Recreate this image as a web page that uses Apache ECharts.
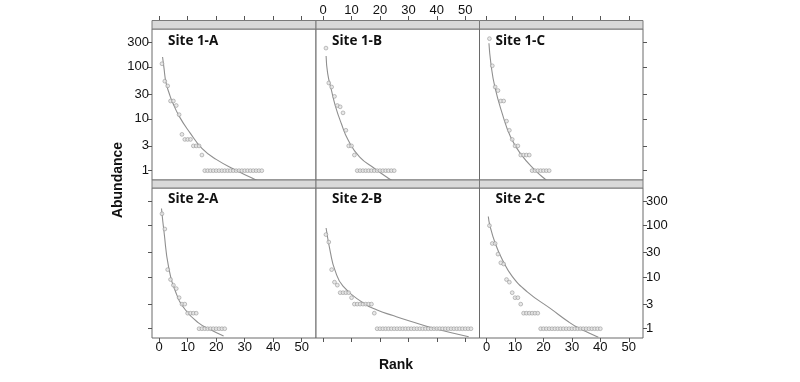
<!DOCTYPE html>
<html><head><meta charset="utf-8">
<script src="https://cdn.jsdelivr.net/npm/echarts@6/dist/echarts.min.js"></script>
<style>html,body{margin:0;padding:0;background:#fff}#c{width:800px;height:382px}</style>
</head><body><div id="c"></div>
<script>
// Abundance by rank (rank = position in list, 1-based)
var site1A = [115,53,43,22,22,18,12,5,4,4,4,3,3,3,2,1,1,1,1,1,1,1,1,1,1,1,1,1,1,1,1,1,1,1,1,1];
var site1B = [230,49,41,27,18,17,13,6,3,3,2,1,1,1,1,1,1,1,1,1,1,1,1,1,1];
var site1C = [350,105,41,35,22,22,9,6,4,3,3,2,2,2,2,1,1,1,1,1,1,1];
var site2A = [170,86,14,9,7,6,4,3,3,2,2,2,2,1,1,1,1,1,1,1,1,1,1];
var site2B = [67,48,14,8,7,5,5,5,5,4,3,3,3,3,3,3,3,2,1,1,1,1,1,1,1,1,1,1,1,1,1,1,1,1,1,1,1,1,1,1,1,1,1,1,1,1,1,1,1,1,1,1];
var site2C = [100,45,45,28,19,18,9,8,5,4,4,3,2,2,2,2,2,2,1,1,1,1,1,1,1,1,1,1,1,1,1,1,1,1,1,1,1,1,1,1];
// Fitted curves: [rank, abundance]
var curve1A = [[1.2,155],[1.65,100],[2.4,50],[3.6,30],[4.5,22],[7.1,11],[10.9,5.3],[15,2.7],[20,1.65],[27.3,1.0],[34,0.66],[35,0.63]];
var curve1B = [[1.05,162],[1.6,75],[2.9,36],[4.4,17],[6.4,8.1],[8.8,3.9],[12.8,1.85],[18.1,1.1],[22.8,0.72],[24.5,0.63]];
var curve1C = [[0.82,285],[1.5,117],[2.9,41],[5.5,12.6],[8.4,4.5],[11.9,2.13],[17.2,1.0],[21.1,0.65],[22,0.6]];
var curve2A = [[0.83,215],[1.76,72],[3.3,16],[5.9,5],[9.1,2.36],[13.8,1.3],[17.9,0.97],[22.6,0.72]];
var curve2B = [[1.05,90],[2.6,29.5],[4.1,14],[7.0,6.7],[14,3.2],[19,2.3],[24.6,1.8],[30.7,1.4],[39.5,1.0],[51.2,0.70]];
var curve2C = [[0.6,150],[1.1,104],[3.0,46],[5.5,22],[9.0,10.4],[14.3,5.2],[22.5,2.45],[28.9,1.35],[32.5,1.02],[36,0.83],[39.3,0.68]];
var panelNames = ['Site 1-A','Site 1-B','Site 1-C','Site 2-A','Site 2-B','Site 2-C'];
var xTicks = [0,10,20,30,40,50];
var yTickLabels = [1,3,10,30,100,300];

var sites = [site1A,site1B,site1C,site2A,site2B,site2C];
var curves = [curve1A,curve1B,curve1C,curve2A,curve2B,curve2C];
var yTicks = yTickLabels.map(function(v){return Math.log10(v);});
var colLeft = [152,316,479.5], colW = [164,163.5,163.5];
var rowTop = [29,188], rowH = [151,150];
var stripY = [20.5,180], stripH = [8.5,8];
var font = 'Liberation Sans, Arial, sans-serif';

var grid=[], xAxis=[], yAxis=[], series=[], graphic=[];
for (var p=0;p<6;p++){
  var r = Math.floor(p/3), c = p%3;
  grid.push({left:colLeft[c], top:rowTop[r], width:colW[c], height:rowH[r], show:true, borderColor:'#6a6a6a', borderWidth:1, backgroundColor:'#fff', containLabel:false});
  var xLabels = (r===0 && c===1) || (r===1 && c!==1);
  xAxis.push({type:'value', gridIndex:p, min:-2.5, max:55, position: r===0?'top':'bottom', offset: r===0?9:0,
    axisLine:{show:false, onZero:false}, splitLine:{show:false},
    axisTick:{show:true, inside:false, length:4, customValues:xTicks, lineStyle:{color:'#555'}},
    axisLabel:{show:xLabels, customValues:xTicks, margin:3, fontSize:13, fontFamily:font, color:'#111'}});
  var yShowTicks = (c===0) || (c===2);
  var yLabels = (r===0 && c===0) || (r===1 && c===2);
  yAxis.push({type:'value', gridIndex:p, min:-0.18, max:2.73, position: c===2?'right':'left',
    axisLine:{show:false, onZero:false}, splitLine:{show:false},
    axisTick:{show:yShowTicks, inside:false, length:4, customValues:yTicks, lineStyle:{color:'#555'}},
    axisLabel:{show:yLabels, customValues:yTicks, margin:3, fontSize:13, fontFamily:font, color:'#111',
      formatter:function(v){return String(Math.round(Math.pow(10,v)));}}});
  series.push({type:'line', xAxisIndex:p, yAxisIndex:p, showSymbol:false, smooth:0.5, clip:true, silent:true,
    lineStyle:{color:'#8f8f8f', width:1.1},
    data: curves[p].map(function(q){return [q[0], Math.log10(q[1])];}), z:2});
  series.push({type:'scatter', xAxisIndex:p, yAxisIndex:p, symbol:'circle', symbolSize:3.8, silent:true,
    itemStyle:{color:'#e2e2e2', borderColor:'#8f8f8f', borderWidth:0.7},
    data: sites[p].map(function(v,i){return [i+1, Math.log10(v)];}), z:3});
  graphic.push({type:'text', left: colLeft[c]+16, top: rowTop[r]+(r===0?5:4), z:10,
    style:{text:panelNames[p], font:'bold 13.5px "Open Sans", "Noto Sans", sans-serif', fill:'#111'}});
}
for (var r2=0;r2<2;r2++) for (var c2=0;c2<3;c2++){
  graphic.push({type:'rect', shape:{x:colLeft[c2], y:stripY[r2], width:colW[c2], height:stripH[r2]}, z:5,
    style:{fill:'#d9d9d9', stroke:'#7a7a7a', lineWidth:1}});
}
graphic.push({type:'text', x:118, y:180, rotation:Math.PI/2, z:10,
  style:{text:'Abundance', font:'bold 14px "Liberation Sans", Arial, sans-serif', fill:'#111', align:'center', verticalAlign:'middle'}});
graphic.push({type:'text', x:396, y:365, z:10,
  style:{text:'Rank', font:'bold 14px "Liberation Sans", Arial, sans-serif', fill:'#111', align:'center', verticalAlign:'middle'}});

var chart = echarts.init(document.getElementById('c'), null, {renderer:'canvas'});
chart.setOption({animation:false, backgroundColor:'#fff', grid:grid, xAxis:xAxis, yAxis:yAxis, series:series, graphic:graphic});
</script></body></html>
